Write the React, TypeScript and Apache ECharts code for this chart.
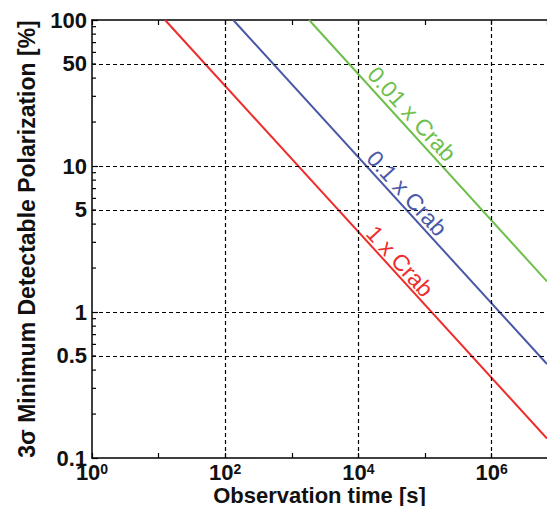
import React, { useEffect, useRef } from "react";
import * as echarts from "echarts";

// Axis ranges
const X_MIN = 1;
const X_MAX = 6.8e6;
const Y_MIN = 0.1;
const Y_MAX = 100;

// Series: observation time [s] vs 3-sigma MDP [%]
const timeRed = [12.5, 6.8e6];
const mdpRed = [100, 0.136];
const timeBlue = [132, 6.8e6];
const mdpBlue = [100, 0.44];
const timeGreen = [1820, 6.8e6];
const mdpGreen = [100, 1.62];

// Curve labels: [time, mdp] anchor of the text
const labelRed = [4.2e4, 2.23];
const labelBlue = [5.37e4, 6.5];
const labelGreen = [6.35e4, 22.7];

// Grid / ticks
const yGridValues = [0.5, 1, 5, 10, 50];
const yExtraLabels = [0.5, 5, 50];
const xGridValues = [1e2, 1e4, 1e6];
const yMinorTicks = [
  0.2, 0.3, 0.4, 0.5, 0.6, 0.7, 0.8, 0.9,
  2, 3, 4, 5, 6, 7, 8, 9,
  20, 30, 40, 50, 60, 70, 80, 90,
];

const FONT = "Liberation Sans, Arial, Helvetica, sans-serif";
const TXT = "#111";

const RED = "#ee2d2d";
const BLUE = "#4a58a8";
const GREEN = "#6dbf4b";

function pairs(xs: number[], ys: number[]) {
  return xs.map((x, i) => [x, ys[i]]);
}

export default function App() {
  const ref = useRef<HTMLDivElement>(null);

  useEffect(() => {
    if (!ref.current) return;
    const chart = echarts.init(ref.current, undefined, { renderer: "svg" });

    const axisLineStyle = { color: "#000", width: 1.5 };

    const curveLabel = (text: string, coord: number[], color: string) => ({
      symbol: "circle",
      symbolSize: 1,
      itemStyle: { color: "rgba(0,0,0,0)" },
      label: { show: false },
      data: [
        {
          coord,
          label: {
            show: true,
            position: "inside",
            formatter: text,
            rotate: -47.6,
            color,
            fontSize: 23,
            fontFamily: FONT,
          },
        },
      ],
    });

    const option: any = {
      animation: false,
      backgroundColor: "#fff",
      grid: {
        left: 92,
        right: 0,
        top: 20,
        bottom: 48,
        containLabel: false,
        outerBoundsMode: "none",
      },
      xAxis: [
        {
          type: "log",
          logBase: 10,
          min: X_MIN,
          max: X_MAX,
          position: "bottom",
          axisLine: { show: true, lineStyle: axisLineStyle },
          axisTick: { show: true, inside: true, length: 5, lineStyle: { color: "#000", width: 1.2 } },
          splitLine: { show: false },
          axisLabel: {
            margin: 4,
            showMaxLabel: false,
            formatter: (v: number) => {
              const lg = Math.log10(v);
              const e = Math.round(lg);
              if (Math.abs(lg - e) > 1e-6 || e % 2 !== 0) return "";
              return `{b|10}{s|${e}}`;
            },
            rich: {
              b: { fontSize: 22, lineHeight: 20, fontWeight: "bold", fontFamily: FONT, color: TXT },
              s: { fontSize: 14, lineHeight: 14, verticalAlign: "top", fontWeight: "bold", fontFamily: FONT, color: TXT },
            },
          },
          name: "Observation time [s]",
          nameLocation: "middle",
          nameGap: 26,
          nameMoveOverlap: false,
          nameTextStyle: { fontSize: 22, fontWeight: "bold", fontFamily: FONT, color: TXT },
        },
        {
          type: "log",
          logBase: 10,
          min: X_MIN,
          max: X_MAX,
          position: "top",
          axisLine: { show: true, lineStyle: axisLineStyle },
          axisTick: { show: true, inside: true, length: 5, lineStyle: { color: "#000", width: 1.2 } },
          axisLabel: { show: false },
          splitLine: { show: false },
        },
      ],
      yAxis: {
        type: "log",
        logBase: 10,
        min: Y_MIN,
        max: Y_MAX,
        axisLine: { show: true, lineStyle: axisLineStyle },
        axisTick: { show: true, inside: true, length: 6, lineStyle: { color: "#000", width: 1.2 } },
        splitLine: { show: false },
        axisLabel: {
          margin: 5,
          fontSize: 22,
          fontWeight: "bold",
          fontFamily: FONT,
          color: TXT,
          formatter: (v: number) => String(+v.toPrecision(6)),
        },
        name: "3σ Minimum Detectable Polarization [%]",
        nameLocation: "middle",
        nameGap: 54,
        nameMoveOverlap: false,
        nameTextStyle: { fontSize: 23, fontWeight: "bold", fontFamily: FONT, color: TXT },
      },
      series: [
        {
          type: "line",
          data: [],
          z: 1,
          silent: true,
          markLine: {
            silent: true,
            animation: false,
            symbol: ["none", "none"],
            lineStyle: { color: "#000", type: [4, 3], width: 1.2 },
            data: [
              ...yGridValues.map((v) => ({
                yAxis: v,
                label: {
                  show: yExtraLabels.includes(v),
                  position: "start",
                  distance: 5,
                  formatter: String(v),
                  fontSize: 22,
                  fontWeight: "bold",
                  fontFamily: FONT,
                  color: TXT,
                },
              })),
              ...xGridValues.map((v) => ({ xAxis: v, label: { show: false } })),
            ],
          },
        },
        {
          type: "custom",
          silent: true,
          z: 2,
          data: yMinorTicks.map((v) => [X_MIN, v]),
          encode: { x: 0, y: 1 },
          renderItem: (_params: any, api: any) => {
            const p = api.coord([api.value(0), api.value(1)]);
            return {
              type: "line",
              shape: { x1: p[0], y1: p[1], x2: p[0] + 4, y2: p[1] },
              style: { stroke: "#000", lineWidth: 1.2 },
            };
          },
        },
        {
          name: "1 x Crab",
          type: "line",
          z: 3,
          data: pairs(timeRed, mdpRed),
          showSymbol: false,
          symbol: "none",
          lineStyle: { color: RED, width: 2 },
          markPoint: curveLabel("1 x Crab", labelRed, RED),
        },
        {
          name: "0.1 x Crab",
          type: "line",
          z: 3,
          data: pairs(timeBlue, mdpBlue),
          showSymbol: false,
          symbol: "none",
          lineStyle: { color: BLUE, width: 2 },
          markPoint: curveLabel("0.1 x Crab", labelBlue, BLUE),
        },
        {
          name: "0.01 x Crab",
          type: "line",
          z: 3,
          data: pairs(timeGreen, mdpGreen),
          showSymbol: false,
          symbol: "none",
          lineStyle: { color: GREEN, width: 2 },
          markPoint: curveLabel("0.01 x Crab", labelGreen, GREEN),
        },
      ],
    };

    chart.setOption(option);
    return () => chart.dispose();
  }, []);

  return (
    <div
      ref={ref}
      style={{ position: "absolute", left: 0, top: 0, width: 547, height: 506, background: "#fff" }}
    />
  );
}
